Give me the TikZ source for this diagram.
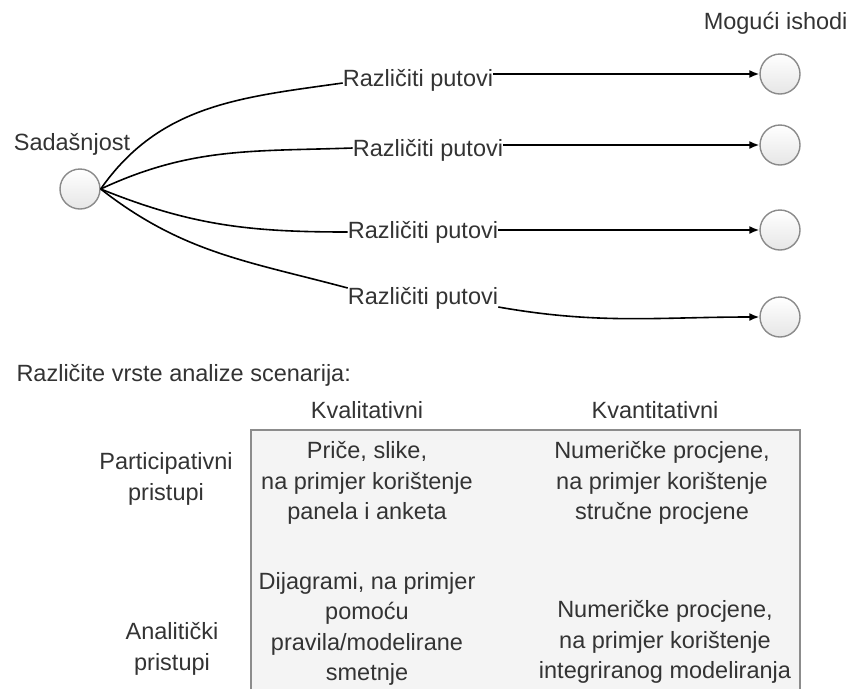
\documentclass[tikz,border=0pt]{standalone}
\usepackage{fontspec}
\setmainfont{Liberation Sans}
\usetikzlibrary{arrows.meta}
\definecolor{txtgray}{HTML}{333333}
\definecolor{circfill}{HTML}{E6E6E6}
\definecolor{circline}{HTML}{8A8A8A}
\definecolor{boxfill}{HTML}{F4F4F4}
\definecolor{boxline}{HTML}{8C8C8C}

\begin{document}
\begin{tikzpicture}[x=1pt,y=-1pt,
        every node/.style={font=\fontsize{23.5}{30.5}\selectfont, text=txtgray},
        state/.style={circle, draw=circline, line width=1.4pt, top color=white, bottom color=circfill, minimum size=40pt, inner sep=0pt},
        path label/.style={inner sep=0pt},
        path line/.style={draw, line width=1.6pt},
        outcome arrow/.style={path line, -{Latex[length=10pt, width=8pt]}},
        cell/.style={align=center}]
    \useasboundingbox (0,0) rectangle (852,689);
    % scenario tree
    \node[state] (now) at (80,189) {};
    \node (nowlabel) at (72,144) {Sadašnjost};
    \node[anchor=east] (outlabel) at (851,23) {Mogući ishodi};
    \foreach \i/\y in {1/74, 2/145, 3/230, 4/317}
        \node[state] (out\i) at (780,\y) {};
    \node[path label] (path1) at (418,80) {Različiti putovi};
    \node[path label] (path2) at (428,150) {Različiti putovi};
    \node[path label] (path3) at (423,232) {Različiti putovi};
    \node[path label] (path4) at (423,298) {Različiti putovi};
    \draw[path line] (now.east) to[out=55, in=188] ([yshift=-3pt]path1.west);
    \draw[path line] (now.east) to[out=25, in=182] ([yshift=2pt]path2.west);
    \draw[path line] (now.east) to[out=-22, in=180] (path3.west);
    \draw[path line] (now.east) to[out=-38, in=165] ([yshift=10pt]path4.west);
    \draw[outcome arrow] (path1.east |- out1.west) -- (out1.west);
    \draw[outcome arrow] (path2.east |- out2.west) -- (out2.west);
    \draw[outcome arrow] (path3.east |- out3.west) -- (out3.west);
    \draw[outcome arrow] ([yshift=-9pt]path4.east) to[out=-10, in=180] (out4.west);
    % table of analysis types
    \node[anchor=west] (title) at (13,375) {Različite vrste analize scenarija:};
    \fill[boxfill] (251,430) rectangle (800,689);
    \draw[boxline, line width=1.8pt] (251,689) -- (251,430) -- (800,430) -- (800,689);
    \node (qual) at (367,410) {Kvalitativni};
    \node (quant) at (655,410) {Kvantitativni};
    \node[cell] (partic) at (166,479) {Participativni\\pristupi};
    \node[cell] (analyt) at (172,649) {Analitički\\pristupi};
    \node[cell] (c11) at (367,483) {Priče, slike,\\na primjer korištenje\\panela i anketa};
    \node[cell] (c12) at (662,483) {Numeričke procjene,\\na primjer korištenje\\stručne procjene};
    \node[cell] (c21) at (367,629) {Dijagrami, na primjer\\pomoću\\pravila/modelirane\\smetnje};
    \node[cell] (c22) at (665,642) {Numeričke procjene,\\na primjer korištenje\\integriranog modeliranja};
\end{tikzpicture}
\end{document}
